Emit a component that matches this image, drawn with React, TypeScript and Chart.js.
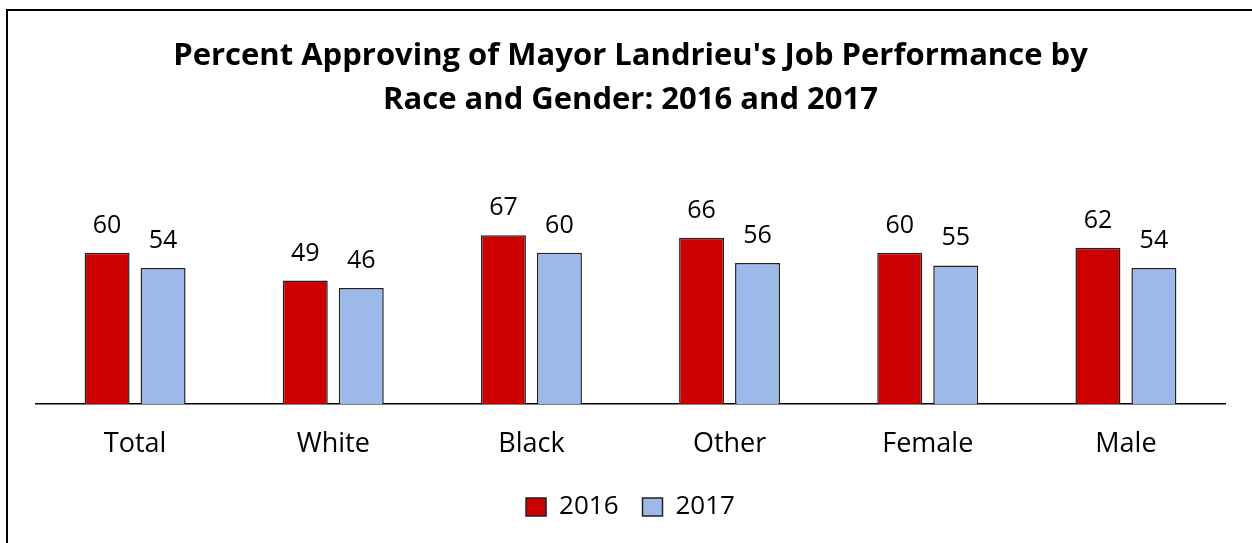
import React, { useEffect, useRef } from 'react';
import { Chart, registerables } from 'chart.js';

Chart.register(...registerables);

const categories = ['Total', 'White', 'Black', 'Other', 'Female', 'Male'];
const values2016 = [60, 49, 67, 66, 60, 62];
const values2017 = [54, 46, 60, 56, 55, 54];
const seriesLabels = ['2016', '2017'];
const titleLines = [
  "Percent Approving of Mayor Landrieu's Job Performance by",
  'Race and Gender: 2016 and 2017',
];

const RED = '#CC0000';
const BLUE = '#9DB9E9';
const FONT = "'Open Sans', 'DejaVu Sans', sans-serif";

const framePlugin = {
  id: 'frame',
  afterDraw(chart: any) {
    const ctx = chart.ctx;
    ctx.save();
    ctx.strokeStyle = '#000';
    ctx.lineWidth = 2;
    ctx.beginPath();
    ctx.moveTo(7, chart.height + 5);
    ctx.lineTo(7, 10);
    ctx.lineTo(chart.width + 5, 10);
    ctx.stroke();
    ctx.restore();
  },
};

const valueLabelPlugin = {
  id: 'valueLabels',
  afterDatasetsDraw(chart: any) {
    const ctx = chart.ctx;
    ctx.save();
    ctx.fillStyle = '#000';
    ctx.font = `25px ${FONT}`;
    ctx.textAlign = 'center';
    ctx.textBaseline = 'alphabetic';
    chart.data.datasets.forEach((ds: any, i: number) => {
      const meta = chart.getDatasetMeta(i);
      meta.data.forEach((bar: any, j: number) => {
        ctx.fillText(String(ds.data[j]), bar.x, bar.y - 20);
      });
    });
    ctx.restore();
  },
};

export default function App() {
  const ref = useRef<HTMLCanvasElement | null>(null);

  useEffect(() => {
    document.body.style.margin = '0';
    if (!ref.current) return;
    const chart = new Chart(ref.current, {
      type: 'bar',
      data: {
        labels: categories,
        datasets: [
          {
            label: seriesLabels[0],
            data: values2016,
            backgroundColor: RED,
            borderColor: '#222',
            borderWidth: 1.5,
            categoryPercentage: 0.565,
            barPercentage: 0.804,
          },
          {
            label: seriesLabels[1],
            data: values2017,
            backgroundColor: BLUE,
            borderColor: '#222',
            borderWidth: 1.5,
            categoryPercentage: 0.565,
            barPercentage: 0.804,
          },
        ],
      },
      options: {
        responsive: false,
        animation: false,
        devicePixelRatio: 1,
        layout: { padding: { left: 36, right: 27, top: 0, bottom: 13 } },
        plugins: {
          title: {
            display: true,
            text: titleLines,
            color: '#000',
            font: { family: FONT, size: 31, weight: 'bold', lineHeight: 44 / 31 },
            padding: { top: 34, bottom: 30 },
          },
          legend: {
            display: true,
            position: 'bottom',
            labels: {
              color: '#000',
              font: { family: FONT, size: 26 },
              boxWidth: 20,
              boxHeight: 18,
              padding: 24,
            },
          },
          tooltip: { enabled: false },
        },
        scales: {
          x: {
            grid: { display: false, drawTicks: false },
            border: { display: true, color: '#000', width: 1.5 },
            ticks: {
              color: '#000',
              font: { family: FONT, size: 27 },
              padding: 24,
            },
            afterFit: (scale: any) => {
              scale.height = 66;
            },
          },
          y: {
            display: false,
            min: 0,
            max: 100,
          },
        },
      },
      plugins: [framePlugin, valueLabelPlugin],
    });
    return () => chart.destroy();
  }, []);

  return (
    <div style={{ position: 'absolute', left: 0, top: 0, width: 1252, height: 543 }}>
      <canvas ref={ref} width={1252} height={543} />
    </div>
  );
}
